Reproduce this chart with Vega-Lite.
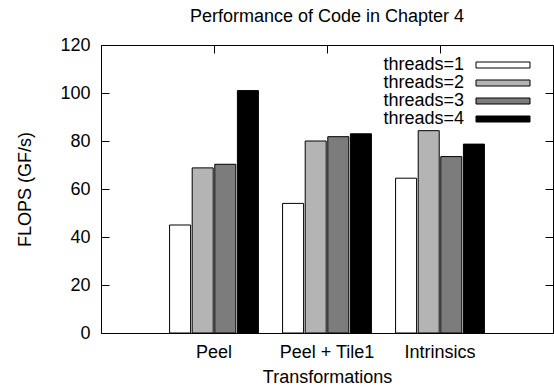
{
  "$schema": "https://vega.github.io/schema/vega-lite/v6.json",
  "width": 452,
  "height": 288,
  "autosize": {"type": "none"},
  "padding": {"left": 101, "top": 45, "right": 1, "bottom": 57},
  "background": "white",
  "config": {
    "font": "Liberation Sans",
    "view": {"stroke": "black", "strokeWidth": 1},
    "axis": {
      "domain": false, "grid": false,
      "labelFont": "Liberation Sans", "titleFont": "Liberation Sans",
      "labelFontSize": 18, "titleFontSize": 18, "titleFontWeight": "normal",
      "labelColor": "black", "titleColor": "black", "tickColor": "black", "tickWidth": 1
    }
  },
  "title": {
    "text": "Performance of Code in Chapter 4",
    "font": "Liberation Sans", "fontSize": 18, "fontWeight": "normal",
    "color": "black", "frame": "group", "anchor": "middle", "offset": 10
  },
  "data": {
    "values": [
      {"transformation": "Peel", "thread": "threads=1", "flops": 45.0},
      {"transformation": "Peel", "thread": "threads=2", "flops": 68.8},
      {"transformation": "Peel", "thread": "threads=3", "flops": 70.3},
      {"transformation": "Peel", "thread": "threads=4", "flops": 101.0},
      {"transformation": "Peel + Tile1", "thread": "threads=1", "flops": 54.0},
      {"transformation": "Peel + Tile1", "thread": "threads=2", "flops": 80.0},
      {"transformation": "Peel + Tile1", "thread": "threads=3", "flops": 81.8},
      {"transformation": "Peel + Tile1", "thread": "threads=4", "flops": 83.0},
      {"transformation": "Intrinsics", "thread": "threads=1", "flops": 64.5},
      {"transformation": "Intrinsics", "thread": "threads=2", "flops": 84.3},
      {"transformation": "Intrinsics", "thread": "threads=3", "flops": 73.5},
      {"transformation": "Intrinsics", "thread": "threads=4", "flops": 78.7}
    ]
  },
  "layer": [
    {
      "mark": {"type": "bar", "stroke": "black", "strokeWidth": 1},
      "encoding": {
        "x": {
          "field": "transformation", "type": "nominal",
          "sort": ["Peel", "Peel + Tile1", "Intrinsics"],
          "scale": {"paddingInner": 0, "paddingOuter": 0.5},
          "axis": {"orient": "bottom", "labelAngle": 0, "ticks": false, "labelPadding": 10, "title": "Transformations", "titlePadding": 7}
        },
        "xOffset": {
          "field": "thread", "type": "nominal",
          "sort": ["threads=1", "threads=2", "threads=3", "threads=4"],
          "scale": {"paddingInner": 0.07, "paddingOuter": 0.535}
        },
        "y": {
          "field": "flops", "type": "quantitative", "stack": null,
          "scale": {"domain": [0, 120], "nice": false},
          "axis": {"orient": "left", "values": [0, 20, 40, 60, 80, 100, 120], "tickSize": -8, "labelPadding": 19, "title": "FLOPS (GF/s)", "titlePadding": 25}
        },
        "fill": {
          "field": "thread", "type": "nominal",
          "scale": {"domain": ["threads=1", "threads=2", "threads=3", "threads=4"], "range": ["#ffffff", "#b4b4b4", "#7c7c7c", "#000000"]},
          "legend": {
            "orient": "none", "legendX": 393, "legendY": 11, "title": null,
            "symbolType": "M-9,-1H9V1H-9Z", "symbolSize": 36,
            "symbolStrokeColor": "black", "symbolStrokeWidth": 1, "symbolOpacity": 1,
            "labelAlign": "right", "labelOffset": -48, "labelFontSize": 18,
            "labelFont": "Liberation Sans", "labelColor": "black", "labelLimit": 300,
            "rowPadding": 0, "padding": 0
          }
        }
      }
    },
    {
      "mark": {"type": "bar", "opacity": 0},
      "encoding": {
        "x": {
          "field": "transformation", "type": "nominal",
          "sort": ["Peel", "Peel + Tile1", "Intrinsics"],
          "axis": {"orient": "top", "labels": false, "tickSize": -8, "title": null}
        },
        "y": {
          "field": "flops", "type": "quantitative", "stack": null,
          "scale": {"domain": [0, 120], "nice": false},
          "axis": {"orient": "right", "labels": false, "values": [0, 20, 40, 60, 80, 100, 120], "tickSize": -8, "title": null}
        }
      }
    }
  ],
  "resolve": {"axis": {"x": "independent", "y": "independent"}}
}
